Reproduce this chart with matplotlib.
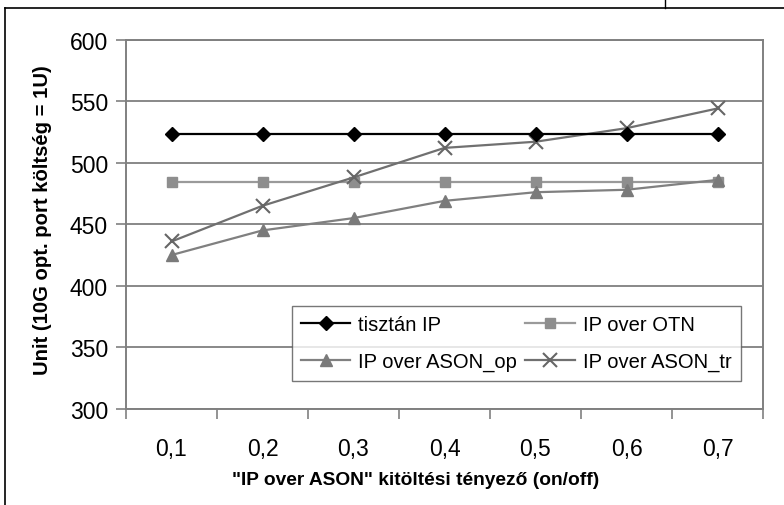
import numpy as np
import matplotlib
matplotlib.use("Agg")
import matplotlib.pyplot as plt
from matplotlib.lines import Line2D

plt.rcParams["font.family"] = ["Liberation Sans", "DejaVu Sans"]

# data
fill_factors = ["0,1", "0,2", "0,3", "0,4", "0,5", "0,6", "0,7"]
pure_ip = [523, 523, 523, 523, 523, 523, 523]
ip_over_otn = [484, 484, 484, 484, 484, 484, 484]
ip_over_ason_op = [425, 445, 455, 469, 476, 478, 486]
ip_over_ason_tr = [436, 465, 488, 512, 517, 528, 544]
y_ticks = [300, 350, 400, 450, 500, 550, 600]

fig = plt.figure(figsize=(7.84, 5.06), dpi=100)
fig.patch.set_facecolor("white")
ax = fig.add_axes([126 / 784, 1 - 410 / 506, (763 - 126) / 784, (410 - 40.5) / 506])

x = np.arange(len(fill_factors))
h_ip, = ax.plot(x, pure_ip, color="black", lw=1.6, marker="D", ms=7, mfc="black", mec="black",
                label="tisztán IP", zorder=5)
h_otn, = ax.plot(x, ip_over_otn, color="#9a9a9a", lw=1.6, marker="s", ms=7, mfc="#8e8e8e",
                 mec="#8e8e8e", label="IP over OTN", zorder=4)
h_op, = ax.plot(x, ip_over_ason_op, color="#808080", lw=1.6, marker="^", ms=8, mfc="#7a7a7a",
                mec="#7a7a7a", label="IP over ASON_op", zorder=4)
h_tr, = ax.plot(x, ip_over_ason_tr, color="#707070", lw=1.6, marker="x", ms=10, mew=1.5,
                mec="#666666", label="IP over ASON_tr", zorder=4)

ax.set_xlim(-0.5, len(fill_factors) - 0.5)
ax.set_ylim(300, 600)
ax.set_yticks(y_ticks)
ax.yaxis.grid(True, color="#7f7f7f", lw=1.3)
ax.set_axisbelow(True)

# category boundaries as major ticks, labels on minor ticks at centres
ax.set_xticks(np.arange(len(fill_factors) + 1) - 0.5)
ax.set_xticklabels([])
ax.set_xticks(x, minor=True)
ax.set_xticklabels(fill_factors, minor=True)
ax.tick_params(axis="x", which="major", direction="out", length=7, width=1.2, color="#808080")
ax.tick_params(axis="x", which="minor", length=0, pad=20, labelsize=16.5)
ax.tick_params(axis="y", direction="out", length=7, width=1.2, color="#808080", pad=6, labelsize=16.5)

for side in ["left", "right", "top", "bottom"]:
    ax.spines[side].set_color("#808080")
    ax.spines[side].set_linewidth(1.4)

ax.set_ylabel("Unit (10G opt. port költség = 1U)", fontsize=14.6, fontweight="bold")
ax.yaxis.set_label_coords(-(126 - 52) / 637, (410 - 220) / 369.5)
ax.set_xlabel("\"IP over ASON\" kitöltési tényező (on/off)", fontsize=13.8, fontweight="bold")
ax.xaxis.set_label_coords((416 - 126) / 637, -(472 - 410) / 369.5)

# row-wise order like the original legend
leg = fig.legend([h_ip, h_op, h_otn, h_tr],
                 ["tisztán IP", "IP over ASON_op", "IP over OTN", "IP over ASON_tr"],
                 loc="upper left", bbox_to_anchor=(292 / 784, 1 - 307 / 506), ncols=2,
                 fontsize=14.5, frameon=True, fancybox=False, edgecolor="#555555",
                 handlelength=2.45, handletextpad=0.4, columnspacing=0.4,
                 borderpad=0.45, labelspacing=0.9, borderaxespad=0)
leg.get_frame().set_linewidth(1.0)

# outer frame lines of the original page
fig.add_artist(Line2D([5 / 784, 1], [1 - 9 / 506, 1 - 9 / 506], color="black", lw=1.2))
fig.add_artist(Line2D([5 / 784, 5 / 784], [0, 1 - 9 / 506], color="black", lw=1.2))
fig.add_artist(Line2D([665 / 784, 665 / 784], [1 - 9 / 506, 1], color="black", lw=1.0))

fig.savefig("out.png", dpi=100)
